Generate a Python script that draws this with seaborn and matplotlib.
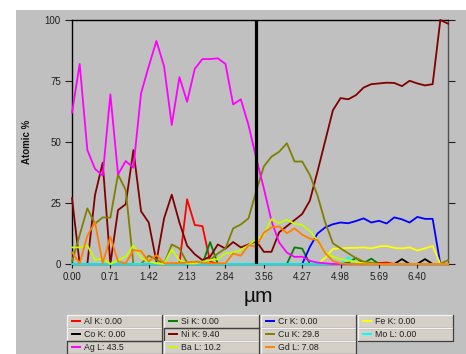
import numpy as np
import pandas as pd
import matplotlib
matplotlib.use("Agg")
import matplotlib.pyplot as plt
import seaborn as sns
from matplotlib.patches import Rectangle
from matplotlib.lines import Line2D

# ---- line-scan data (atomic %) -------------------------------------------
step = 7.11 / 50
positions = np.arange(50) * step          # scan positions along the line, µm
cursor_idx = 24                            # cursor sits on this scan point

al = [0, 0, 0, 0, 0, 0, 0, 0, 0, 0, 0, 0, 0, 0, 0, 26.5, 16, 15.5, 1, 0,
      0, 0, 0, 0, 0, 0, 0, 0, 0, 0, 0, 0, 0, 0, 0, 0, 0, 0, 0, 0,
      0.4, 0.6, 0, 0, 0, 0, 0, 0, 0, 0]
si = [0, 0, 0, 0, 0, 0, 0, 0, 0, 0, 0, 0, 0, 0, 0, 0, 0, 0, 9, 0,
      0, 0, 0, 0, 0, 0, 0, 0, 0, 6.8, 6.3, 0, 0, 0, 0, 0, 0.5, 2.5, 0.3, 2.2,
      0, 0, 0, 0, 0, 0, 0, 0, 0, 0]
cr = [0, 0, 0, 0, 0, 0, 0, 0, 0, 0, 0, 0, 0, 0, 0, 0, 0, 0, 0, 0,
      0, 0, 0, 0, 0, 0, 0, 0, 0, 0, 0, 7, 12.5, 15, 16.3, 17, 16.7, 17.6, 18.7, 17,
      17.7, 16.6, 19.1, 18.3, 17, 19.3, 18.5, 18.5, 0, 0]
fe = [0, 0, 0, 0, 0, 0, 0, 0, 0, 0, 0, 0, 0, 0, 0, 0, 0, 0, 0, 0,
      0, 0, 0, 0, 0, 0, 0, 0, 0, 0, 0, 0, 0, 2.5, 6.2, 6.4, 6.6, 6.6, 6.8, 6.4,
      7.2, 7.4, 6.6, 6.4, 6.8, 5.5, 6.4, 7.4, 0, 0]
co = [0, 0, 0, 0, 0, 0, 0, 0, 0, 0, 0, 0, 0, 0, 0, 0, 0, 0, 0, 0,
      0, 0, 0, 0, 0, 0, 0, 0, 0, 0, 0, 0, 0, 0, 0, 0, 0, 0, 0, 0,
      0, 0, 0, 2, 0, 0, 2, 0, 0, 0]
ni = [27, 0, 0, 28.3, 41.5, 0, 22.1, 24.5, 46.7, 21.6, 17, 1, 18.7, 28.4, 17, 7.5, 4, 1.6, 3, 8,
      6.3, 9, 6.8, 8, 9.4, 5, 5, 13, 15.5, 18, 20.5, 26, 38, 50.5, 63, 68, 67.5, 69.2, 72.3, 73.7,
      74, 74.3, 74.2, 72.9, 75.1, 74, 73.2, 73.7, 100, 98.5]
cu = [1, 11.9, 22.8, 16.5, 19.1, 19, 36.7, 30.3, 0, 0, 3.4, 1.8, 0, 8, 6.4, 0.5, 0.9, 0.9, 1.6, 4.3,
      6.4, 14.6, 16.2, 18.7, 29.8, 40, 44, 46, 49.5, 42, 42, 36.5, 28, 17, 8.5, 6.4, 4.4, 2.4, 1, 0.4,
      0, 0, 0, 0, 0, 0, 0, 0, 0, 1.6]
mo = [0, 0, 0, 0, 0, 0, 0, 0, 0, 0, 0, 0, 0, 0, 0, 0, 0, 0, 0, 0,
      0, 0, 0, 0, 0, 0, 0, 0, 0, 0, 0, 0, 0, 0, 0, 0, 2.7, 0, 0, 0,
      0, 0, 0, 0, 0, 0, 0, 0, 0, 0]
ag = [62, 82, 46.7, 39, 36.2, 69.5, 36.7, 42.2, 39.5, 70, 81, 91.4, 81, 57, 76.6, 66.5, 80, 84, 84, 84.3,
      82, 65.4, 67.5, 57, 43.5, 31, 17.6, 8.8, 4.7, 2.9, 3, 1.3, 0.6, 0.3, 0, 0, 0, 0, 0, 0,
      0, 0, 0, 0, 0, 0, 0, 0, 0, 0]
ba = [6.8, 6.8, 7.6, 1.6, 2.3, 0, 1.6, 3, 7.6, 2.5, 1, 0.3, 0, 6, 1.5, 0.3, 0.2, 0.9, 1.6, 2,
      4.3, 4.7, 5.7, 7.7, 10.2, 11.8, 18.4, 16.8, 18.2, 16.5, 16, 13.5, 9.5, 4.6, 3, 2, 1.4, 0.8, 0.3, 0,
      0, 0, 0, 0, 0, 0, 0, 0, 0, 0]
gd = [4.8, 0.3, 11.6, 17.1, 0.3, 11.2, 1, 0.3, 5.7, 5.3, 1, 3.7, 0.3, 0.4, 0.4, 0.6, 0.9, 0.6, 0.3, 0.3,
      0.3, 4.3, 3.4, 7.7, 7.08, 12.8, 15, 15.4, 12.6, 14.6, 12, 10.4, 9.8, 4.5, 1.2, 0.2, 0, 0, 0, 0,
      0, 0, 0, 0, 0, 0, 0, 0, 0, 0]

elements = ["Al K", "Si K", "Cr K", "Fe K", "Co K", "Ni K", "Cu K", "Mo L", "Ag L", "Ba L", "Gd L"]
series = [al, si, cr, fe, co, ni, cu, mo, ag, ba, gd]
colors = ["#ff0000", "#008000", "#0000ff", "#ffff00", "#000000", "#800000",
          "#808000", "#00ffff", "#ff00ff", "#c0ff00", "#ff8000"]
palette = dict(zip(elements, colors))

x_ticks = [0.00, 0.71, 1.42, 2.13, 2.84, 3.56, 4.27, 4.98, 5.69, 6.40]
y_ticks = [0, 25, 50, 75, 100]

df = pd.concat(
    [pd.DataFrame({"pos": positions, "pct": vals, "element": el})
     for el, vals in zip(elements, series)],
    ignore_index=True,
)

# ---- figure -----------------------------------------------------------------
plt.rcParams["font.family"] = ["Liberation Sans", "DejaVu Sans"]

W, H = 466, 354
fig = plt.figure(figsize=(W / 100, H / 100), dpi=100, facecolor="white")
fig.patches.append(Rectangle((16 / W, 0), 1 - 16 / W, 1 - 10 / H,
                             transform=fig.transFigure, facecolor="#c0c0c0",
                             edgecolor="none", zorder=-10))

ax = fig.add_axes([72 / W, 1 - 264 / H, (448 - 72) / W, (264 - 20) / H])
ax.set_facecolor("none")
ax.set_zorder(5)

sns.lineplot(data=df, x="pos", y="pct", hue="element", hue_order=elements,
             palette=palette, linewidth=1.3, estimator=None, sort=False,
             legend=False, ax=ax)
for ln in ax.get_lines():
    ln.set_clip_on(False)
    ln.set_zorder(3)

# cursor
ax.axvline(positions[cursor_idx], color="black", lw=2.3, zorder=4)

ax.set_xlim(0, positions[-1])
ax.set_ylim(0, 100)
ax.set_xticks(x_ticks)
ax.set_xticklabels([f"{t:.2f}" for t in x_ticks])
ax.set_yticks(y_ticks)
ax.set_yticklabels([str(t) for t in y_ticks])

ax.tick_params(axis="y", which="major", direction="out", length=5, width=0.8,
               color="#202020", labelsize=7, labelcolor="#202020", pad=3,
               right=True, labelright=False)
ax.tick_params(axis="x", which="major", direction="out", length=3, width=0.8,
               color="#202020", labelsize=7, labelcolor="#202020", pad=3)
for t in ax.yaxis.get_major_ticks():
    t.tick2line.set_color("#606060")

for side in ("left", "top", "bottom"):
    ax.spines[side].set_color("black")
    ax.spines[side].set_linewidth(1.0)
ax.spines["right"].set_color("#505050")
ax.spines["right"].set_linewidth(1.0)

ax.set_xlabel("µm", fontsize=15, va="center", color="#101010")
ax.xaxis.set_label_coords((258 - 72) / 376, (264 - 296) / 244)
ax.set_ylabel("Atomic %", fontsize=7, fontweight="bold", va="center", color="#101010")
ax.yaxis.set_label_coords((27 - 72) / 376, 0.5)

# ---- value boxes below the chart -------------------------------------------
def fmt(v):
    if v == 0:
        return "0.00"
    return f"{v:.2f}" if v < 10 else f"{v:.1f}"

def fx(px):
    return px / W

def fy(py):
    return 1 - py / H

col_x = [67, 164, 261, 358]
row_y = [315, 328, 341]
bw, bh = 95, 12.5
pressed = {"Ni K", "Ag L"}

for k, (el, vals) in enumerate(zip(elements, series)):
    r, c = divmod(k, 4)
    x0, y0 = col_x[c], row_y[r]
    fig.add_artist(Rectangle((fx(x0), fy(y0 + bh)), bw / W, bh / H,
                             transform=fig.transFigure, facecolor="#d4d0c8",
                             edgecolor="none", zorder=1))
    dark, light = "#404040", "#f4f4f4"
    tl = dark if el in pressed else light
    # top & left edges
    fig.add_artist(Line2D([fx(x0), fx(x0), fx(x0 + bw)],
                          [fy(y0 + bh), fy(y0), fy(y0)],
                          transform=fig.transFigure, color=tl, lw=0.9, zorder=2))
    # bottom & right edges
    fig.add_artist(Line2D([fx(x0), fx(x0 + bw), fx(x0 + bw)],
                          [fy(y0 + bh), fy(y0 + bh), fy(y0)],
                          transform=fig.transFigure, color=dark, lw=0.9, zorder=2))
    ym = y0 + bh / 2
    fig.add_artist(Line2D([fx(x0 + 5), fx(x0 + 13)], [fy(ym), fy(ym)],
                          transform=fig.transFigure, color=palette[el],
                          lw=1.4, zorder=3))
    fig.text(fx(x0 + 17), fy(ym), f"{el}: {fmt(vals[cursor_idx])}",
             ha="left", va="center", fontsize=6.3, color="#202020", zorder=3)

fig.savefig("out.png", dpi=100, facecolor="white")
